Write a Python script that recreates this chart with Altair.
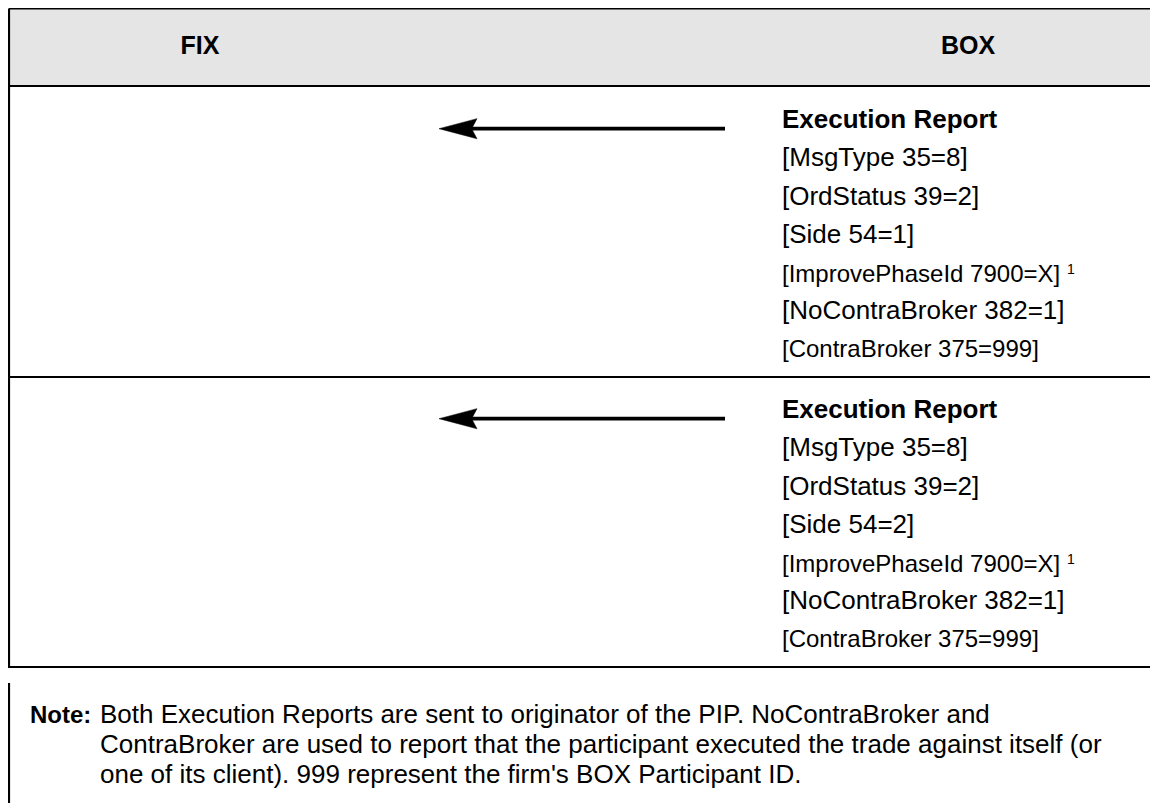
import altair as alt
import pandas as pd

# ---- content ----
header_labels = ["FIX", "BOX"]
report_1 = ["Execution Report", "[MsgType 35=8]", "[OrdStatus 39=2]", "[Side 54=1]",
            "[ImprovePhaseId 7900=X]", "[NoContraBroker 382=1]", "[ContraBroker 375=999]"]
report_2 = ["Execution Report", "[MsgType 35=8]", "[OrdStatus 39=2]", "[Side 54=2]",
            "[ImprovePhaseId 7900=X]", "[NoContraBroker 382=1]", "[ContraBroker 375=999]"]
line_kinds = ["title", "main", "main", "main", "small", "main", "small"]
footnote_mark = "1"
note_label = "Note:"
note_lines = [
    "Both Execution Reports are sent to originator of the PIP. NoContraBroker and",
    "ContraBroker are used to report that the participant executed the trade against itself (or",
    "one of its client). 999 represent the firm's BOX Participant ID.",
]

# ---- layout (page pixel coordinates) ----
W, H = 1142, 795
FONT = "Liberation Sans"
header_x = [200, 968]
header_base = 54
row_step = 290
line_base = [128, 166, 205, 243, 282, 319, 357]
text_x = 782
arrow_y0 = 128.7
arrow_x_start, arrow_x_end, arrow_tip = 725, 470, 439
footnote_x, footnote_base = 1067, 274
note_base = [723, 753, 783]

X = lambda f: alt.X(f, type="quantitative", scale=alt.Scale(domain=[8, 8 + W], nice=False, zero=False), axis=None)
Y = lambda f: alt.Y(f, type="quantitative", scale=alt.Scale(domain=[8, 8 + H], nice=False, zero=False, reverse=True), axis=None)

# header band
hdr = pd.DataFrame({"x": [9], "x2": [8 + W], "y": [8.5], "y2": [86]})
band = alt.Chart(hdr).mark_rect(fill="#e5e5e5").encode(x=X("x"), x2="x2", y=Y("y"), y2="y2")

# grid lines
seg = pd.DataFrame({
    "x":  [9, 9, 9, 9, 9, 9],
    "x2": [8 + W, 8 + W, 8 + W, 8 + W, 9, 9],
    "y":  [8.5, 86, 377, 667, 8.5, 683],
    "y2": [8.5, 86, 377, 667, 668, 8 + H],
})
lines = alt.Chart(seg).mark_rule(stroke="black", strokeWidth=2.2).encode(
    x=X("x"), x2="x2", y=Y("y"), y2="y2")

# arrows
arr = pd.DataFrame({"x": [arrow_x_start] * 2, "x2": [arrow_x_end] * 2,
                    "y": [arrow_y0, arrow_y0 + row_step]})
shafts = alt.Chart(arr).mark_rule(stroke="black", strokeWidth=3.8).encode(
    x=X("x"), x2="x2", y=Y("y"))
heads_df = pd.DataFrame({"x": [arrow_tip + 19] * 2, "y": [arrow_y0, arrow_y0 + row_step]})
heads = alt.Chart(heads_df).mark_point(
    shape="M-1,0L1,-0.53L0.72,0L1,0.53Z", size=38 * 38, filled=True, fill="black",
    stroke="black", strokeWidth=0.5, opacity=1).encode(x=X("x"), y=Y("y"))

# header text
hdr_txt = pd.DataFrame({"x": header_x, "y": [header_base] * 2, "t": header_labels})
hdr_text = alt.Chart(hdr_txt).mark_text(font=FONT, fontSize=25, fontWeight="bold",
                                        align="center", baseline="alphabetic", color="black").encode(
    x=X("x"), y=Y("y"), text="t:N")

# report text
rows = []
for r, rep in enumerate([report_1, report_2]):
    for t, k, b in zip(rep, line_kinds, line_base):
        rows.append({"x": text_x, "y": b + r * row_step, "t": t, "k": k})
rep_df = pd.DataFrame(rows)
size_map = {"title": 26, "main": 26, "small": 24}
rep_df["fs"] = rep_df["k"].map(size_map)

rep_bold = alt.Chart(rep_df[rep_df.k == "title"]).mark_text(
    font=FONT, fontWeight="bold", align="left", baseline="alphabetic", color="black").encode(
    x=X("x"), y=Y("y"), text="t:N", size=alt.Size("fs:Q", scale=None, legend=None))
rep_norm = alt.Chart(rep_df[rep_df.k != "title"]).mark_text(
    font=FONT, align="left", baseline="alphabetic", color="black").encode(
    x=X("x"), y=Y("y"), text="t:N", size=alt.Size("fs:Q", scale=None, legend=None))

fn_df = pd.DataFrame({"x": [footnote_x] * 2, "y": [footnote_base, footnote_base + row_step],
                      "t": [footnote_mark] * 2})
footnotes = alt.Chart(fn_df).mark_text(
    font=FONT, fontSize=14, align="left", baseline="alphabetic", color="black").encode(
    x=X("x"), y=Y("y"), text="t:N")

# note
note_lab = alt.Chart(pd.DataFrame({"x": [30], "y": [note_base[0]], "t": [note_label]})).mark_text(
    font=FONT, fontSize=24, fontWeight="bold", align="left", baseline="alphabetic", color="black").encode(
    x=X("x"), y=Y("y"), text="t:N")
note_df = pd.DataFrame({"x": [100] * 3, "y": note_base, "t": note_lines})
note_txt = alt.Chart(note_df).mark_text(
    font=FONT, fontSize=26, align="left", baseline="alphabetic", color="black").encode(
    x=X("x"), y=Y("y"), text="t:N")

chart = alt.layer(band, lines, shafts, heads, hdr_text, rep_bold, rep_norm, footnotes,
                  note_lab, note_txt).properties(
    width=W, height=H, padding=0, autosize=alt.AutoSizeParams(type="none"), background="white"
).configure_view(stroke=None)

chart.save("out.html", embed_options={"renderer": "svg", "actions": False})
